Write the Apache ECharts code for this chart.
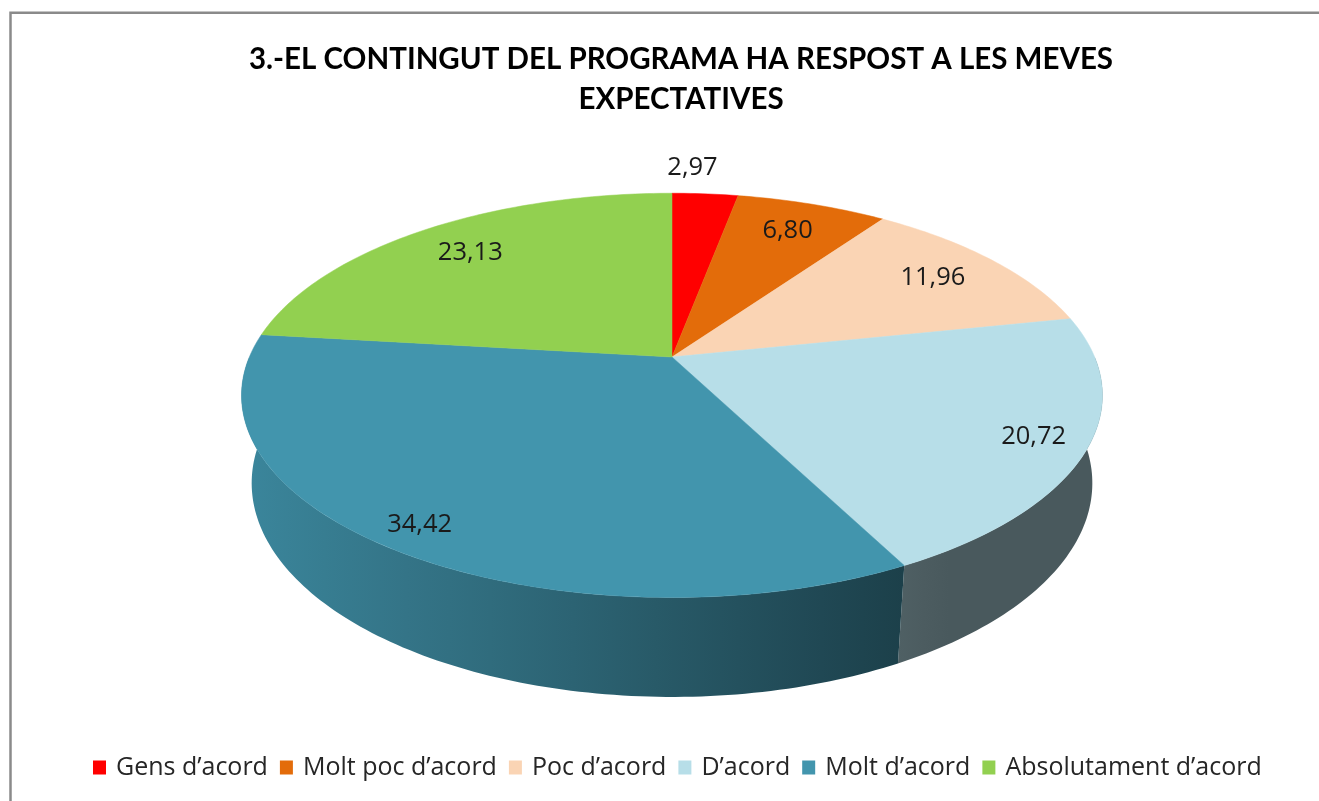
<!DOCTYPE html>
<html>
<head>
<meta charset="utf-8">
<script src="https://cdn.jsdelivr.net/npm/echarts@6/dist/echarts.min.js"></script>
<style>
  html, body { margin: 0; padding: 0; background: #fff; }
  #chart { width: 1319px; height: 801px; }
</style>
</head>
<body>
<div id="chart"></div>
<script>
// ---------- data ----------
const categories = ['Gens d’acord', 'Molt poc d’acord', 'Poc d’acord', 'D’acord', 'Molt d’acord', 'Absolutament d’acord'];
const values = [2.97, 6.80, 11.96, 20.72, 34.42, 23.13];
const colors = ['#ff0000', '#e36c0a', '#fad4b4', '#b7dee8', '#4295ad', '#92d050'];
const titleText = '3.-EL CONTINGUT DEL PROGRAMA HA RESPOST A LES MEVES\nEXPECTATIVES';

// ---------- layout (3D perspective pie) ----------
const CX = 672, CY = 357, F = 1975, R = 0.214, SA = 0.461, CA = 0.887, H = 0.0505;
const labelRadius = [1.2, 0.8, 0.8, 0.88, 0.9, 0.8];
const labelShift = [[-18, 0], [0, 0], [0, 0], [0, 0], [0, 0], [0, 0]];

function proj(deg, rho, y) {
  const t = deg * Math.PI / 180;
  const X = R * rho * Math.sin(t), Z = R * rho * Math.cos(t);
  const depth = 1 + Z * CA - y * SA;
  const up = y * CA + Z * SA;
  return [CX + F * X / depth, CY - F * up / depth];
}
function hexRgb(h) { return [1, 3, 5].map(k => parseInt(h.substr(k, 2), 16)); }
function shade(hex, b) {
  const c = hexRgb(hex).map(v => Math.round(Math.min(255, v * b)));
  return 'rgb(' + c.join(',') + ')';
}
function bright(x) { return Math.max(0.4, Math.min(0.92, 0.9 - 0.47 * (x - 240) / 660)); }

const total = values.reduce((a, b) => a + b, 0);
function startAngle(i) {
  let s = 0;
  for (let k = 0; k < i; k++) s += values[k];
  return s / total * 360;
}
function fmt(v) { return v.toFixed(2).replace('.', ','); }

function renderItem(params, api) {
  const i = params.seriesIndex;
  const v = api.value(0);
  const a = startAngle(i);
  const b = a + v / total * 360;
  const color = colors[i];
  const children = [];
  // top face
  const pts = [proj(0, 0, 0)];
  const n = Math.max(2, Math.ceil(b - a));
  for (let k = 0; k <= n; k++) pts.push(proj(a + (b - a) * k / n, 1, 0));
  children.push({ type: 'polygon', z2: 10, silent: true, shape: { points: pts },
    style: { fill: color, stroke: color, lineWidth: 0.5 } });
  // outer wall (front half)
  const wa = Math.max(a, 90), wb = Math.min(b, 270);
  if (wb > wa) {
    const wp = [];
    const m = Math.max(2, Math.ceil(wb - wa));
    for (let k = 0; k <= m; k++) wp.push(proj(wa + (wb - wa) * k / m, 1, 0));
    for (let k = m; k >= 0; k--) wp.push(proj(wa + (wb - wa) * k / m, 1, -H));
    let x0 = Infinity, x1 = -Infinity;
    wp.forEach(p => { x0 = Math.min(x0, p[0]); x1 = Math.max(x1, p[0]); });
    const stops = [];
    for (let k = 0; k <= 8; k++) {
      const x = x0 + (x1 - x0) * k / 8;
      stops.push({ offset: k / 8, color: shade(color, bright(x)) });
    }
    children.push({ type: 'polygon', z2: 1, silent: true, shape: { points: wp },
      style: { fill: { type: 'linear', x: x0, y: 0, x2: x1, y2: 0, global: true, colorStops: stops } } });
  }
  // label
  const mid = (a + b) / 2;
  const lp = proj(mid, labelRadius[i], 0);
  children.push({ type: 'text', z2: 20, silent: true,
    x: lp[0] + labelShift[i][0], y: lp[1] + labelShift[i][1],
    style: { text: fmt(v), fill: '#1a1a1a', fontSize: 25.5, fontFamily: '"Open Sans", sans-serif',
      align: 'center', verticalAlign: 'middle' } });
  return { type: 'group', children: children };
}

const series = categories.map((name, i) => ({
  type: 'custom',
  name: name,
  coordinateSystem: 'none',
  renderItem: renderItem,
  itemStyle: { color: colors[i] },
  data: [[values[i]]],
  animation: false
}));

const chart = echarts.init(document.getElementById('chart'), null, { renderer: 'canvas' });
chart.setOption({
  backgroundColor: '#ffffff',
  animation: false,
  title: {
    text: titleText,
    left: 676,
    top: 34,
    textAlign: 'center',
    textStyle: { fontFamily: 'Lato, sans-serif', fontWeight: 'bold', fontSize: 29.5, lineHeight: 40, color: '#000' }
  },
  legend: {
    data: categories,
    left: 88,
    top: 750,
    icon: 'rect',
    itemWidth: 13,
    itemHeight: 14,
    itemGap: 12,
    selectedMode: false,
    textStyle: { fontFamily: '"Open Sans", sans-serif', fontSize: 25, color: '#262626', padding: [0, 0, 0, 5] }
  },
  graphic: [{
    type: 'rect', silent: true,
    shape: { x: 10.5, y: 12.8, width: 1400, height: 900 },
    style: { fill: 'none', stroke: '#8a8a8a', lineWidth: 2.5 }
  }],
  series: series
});
</script>
</body>
</html>
